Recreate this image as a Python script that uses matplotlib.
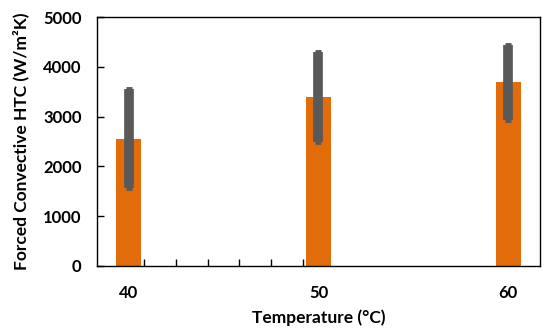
import matplotlib
matplotlib.use("Agg")
import matplotlib.pyplot as plt
import numpy as np

temps = [40, 50, 60]
htc = [2560, 3390, 3690]
err = [1000, 900, 750]
xticklabels = ["40", "50", "60"]

plt.rcParams['font.family'] = ['Lato', 'DejaVu Sans']

fig = plt.figure(figsize=(5.5, 3.32), dpi=100)
ax = fig.add_axes([97/550, (332-266)/332, (540-97)/550, (266-17)/332])

ax.bar(temps, htc, width=1.35, color='#E36C0A', zorder=2)
ax.errorbar(temps, htc, yerr=err, fmt='none', ecolor='#595959',
            elinewidth=7, capsize=2.5, capthick=3.5, zorder=3)

ax.set_xlim(40 - 10/6, 60 + 10/6)
ax.set_ylim(0, 5000)
ax.set_yticks([0, 1000, 2000, 3000, 4000, 5000])
ax.set_xticks(temps)
ax.set_xticklabels(xticklabels)
ax.set_xticks([40 + 10/6*(k + 0.5) for k in range(6)], minor=True)
ax.tick_params(axis='x', which='major', length=0, pad=14, labelsize=12)
ax.tick_params(axis='x', which='minor', direction='in', length=5, width=1)
ax.tick_params(axis='y', direction='in', length=5, width=1, labelsize=12, pad=11)
for lab in ax.get_xticklabels() + ax.get_yticklabels():
    lab.set_fontweight('bold')
for s in ax.spines.values():
    s.set_linewidth(1)
    s.set_color('black')

ax.set_xlabel('Temperature (°C)', fontsize=12.5, fontweight='bold', labelpad=6)
ax.set_ylabel('Forced Convective HTC (W/m²K)', fontsize=12.5, fontweight='bold', labelpad=10)

fig.savefig('out.png', dpi=100)
